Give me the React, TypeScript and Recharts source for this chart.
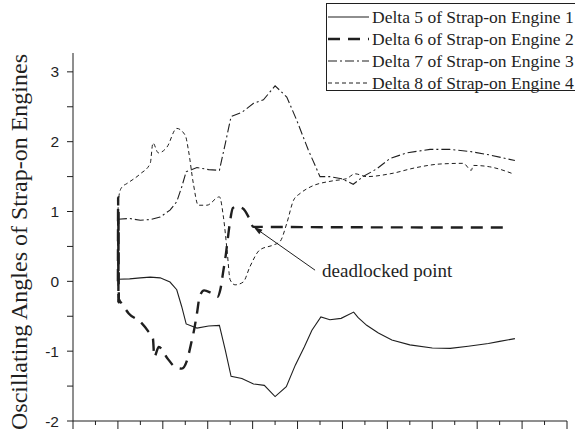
import { LineChart, Line, XAxis, YAxis, ReferenceLine } from 'recharts';

// time axis (s) and oscillating angles (deg) per strap-on engine
const timeD5 = [10, 10.05, 10.1, 12.6, 15.0, 17.2, 19.4, 21.6, 23.1, 24.2, 25.2, 27.6, 30.2, 32.6, 33.9, 35.2, 37.6, 40.2, 42.6, 45.0, 47.5, 49.5, 51.5, 53.2, 55.2, 57.2, 59.7, 62.5, 63.5, 65.4, 68.0, 71.0, 75.0, 80.0, 84.0, 88.0, 92.5, 95.0, 98.4];
const angleD5 = [0.0, 0.9, 0.03, 0.035, 0.05, 0.06, 0.05, -0.01, -0.12, -0.36, -0.61, -0.67, -0.64, -0.63, -0.98, -1.36, -1.39, -1.47, -1.49, -1.65, -1.51, -1.2, -0.94, -0.7, -0.51, -0.55, -0.53, -0.44, -0.52, -0.63, -0.74, -0.84, -0.91, -0.955, -0.96, -0.93, -0.89, -0.86, -0.82];

const timeD6 = [10, 10.05, 10.1, 10.15, 10.2, 10.9, 12.4, 15.0, 16.8, 17.8, 18.1, 19.1, 21.0, 22.6, 24.2, 25.4, 26.3, 26.8, 27.6, 28.2, 29.2, 30.6, 32.2, 32.8, 33.5, 33.9, 34.6, 35.0, 35.6, 36.5, 37.9, 39.1, 40.2, 97.0];
const angleD6 = [0.0, 1.2, -0.3, 1.0, -0.25, -0.32, -0.46, -0.58, -0.72, -0.82, -1.08, -0.94, -1.1, -1.22, -1.25, -1.13, -0.89, -0.75, -0.46, -0.22, -0.13, -0.16, -0.22, -0.12, 0.16, 0.32, 0.68, 0.87, 1.05, 1.07, 1.04, 0.92, 0.78, 0.77];

const timeD7 = [10, 12.6, 15.0, 17.2, 19.4, 21.6, 23.1, 24.2, 25.2, 27.6, 30.2, 32.6, 33.9, 35.2, 37.6, 40.2, 42.4, 45.0, 47.6, 49.8, 52.4, 55.0, 57.2, 59.8, 62.4, 64.6, 67.6, 70.6, 74.3, 79.5, 83.9, 88.4, 92.8, 98.4];
const angleD7 = [0.89, 0.9, 0.875, 0.885, 0.92, 1.02, 1.14, 1.35, 1.57, 1.63, 1.6, 1.59, 1.97, 2.36, 2.42, 2.55, 2.6, 2.8, 2.64, 2.31, 1.88, 1.5, 1.5, 1.47, 1.39, 1.5, 1.61, 1.76, 1.84, 1.89, 1.89, 1.86, 1.81, 1.73];

const timeD8 = [10, 10.3, 10.9, 12.0, 15.0, 17.2, 17.8, 19.0, 20.9, 23.1, 25.0, 25.7, 26.8, 27.9, 29.8, 32.6, 33.5, 34.3, 35.0, 36.1, 37.9, 39.4, 41.6, 44.6, 46.1, 47.6, 49.1, 50.6, 52.8, 57.9, 60.9, 62.8, 65.4, 70.6, 76.5, 81.7, 86.9, 88.7, 89.1, 92.8, 98.0];
const angleD8 = [1.0, 1.25, 1.35, 1.4, 1.54, 1.69, 1.98, 1.84, 1.92, 2.19, 2.09, 1.88, 1.4, 1.09, 1.09, 1.21, 0.92, 0.45, 0.02, -0.05, -0.01, 0.21, 0.45, 0.52, 0.57, 0.83, 1.16, 1.26, 1.35, 1.44, 1.47, 1.54, 1.5, 1.54, 1.63, 1.68, 1.69, 1.59, 1.66, 1.64, 1.54];

const xTicks = [0, 5, 10, 15, 20, 25, 30, 35, 40, 45, 50, 55, 60, 65, 70, 75, 80, 85, 90, 95, 100, 105, 110];
const yTicks = [-2, -1.5, -1, -0.5, 0, 0.5, 1, 1.5, 2, 2.5, 3];

// deadlocked point annotation: label end -> arrow tip
const arrowFrom = { x: 53.9, y: 0.16 };
const arrowTo = { x: 40.2, y: 0.78 };

const ink = '#1f1f1f';

const toPoints = (t: number[], a: number[]) => t.map((x, i) => ({ t: x, a: a[i] }));

const series = [
  { name: 'Delta 5 of Strap-on Engine 1', data: toPoints(timeD5, angleD5), width: 1.1, dash: undefined as string | undefined, curve: 'linear' as const },
  { name: 'Delta 6 of Strap-on Engine 2', data: toPoints(timeD6, angleD6), width: 2.4, dash: '12 8', curve: 'monotoneX' as const },
  { name: 'Delta 7 of Strap-on Engine 3', data: toPoints(timeD7, angleD7), width: 1.1, dash: '9 3 2 3', curve: 'linear' as const },
  { name: 'Delta 8 of Strap-on Engine 4', data: toPoints(timeD8, angleD8), width: 1.0, dash: '4 3', curve: 'monotoneX' as const },
];

const XTick = (props: any) => {
  const { x, y, payload } = props;
  const len = payload.value % 10 === 0 ? 8 : 4;
  return <line x1={x} x2={x} y1={y} y2={y + len} stroke={ink} strokeWidth={1} />;
};

const renderArrow = (props: any) => {
  const { x1, y1, x2, y2 } = props;
  const ang = Math.atan2(y2 - y1, x2 - x1);
  const L = 9;
  const W = 2.8;
  const bx = x2 - L * Math.cos(ang);
  const by = y2 - L * Math.sin(ang);
  const px = -Math.sin(ang) * W;
  const py = Math.cos(ang) * W;
  return (
    <g>
      <line x1={x1} y1={y1} x2={bx} y2={by} stroke={ink} strokeWidth={1} />
      <polygon points={`${x2},${y2} ${bx + px},${by + py} ${bx - px},${by - py}`} fill={ink} />
      <text x={x1 + 7} y={y1 + 7} fontFamily="Liberation Serif" fontSize={19} fill={ink}>
        deadlocked point
      </text>
    </g>
  );
};

const Legend = () => (
  <div
    style={{
      position: 'absolute',
      left: 326,
      top: 3,
      width: 260,
      height: 88,
      border: `1px solid ${ink}`,
      background: '#fff',
      paddingTop: 2,
      boxSizing: 'border-box',
      fontFamily: 'Liberation Serif',
      fontSize: 17.5,
      color: ink,
    }}
  >
    {series.map((s) => (
      <div key={s.name} style={{ display: 'flex', alignItems: 'center', height: 22, whiteSpace: 'nowrap' }}>
        <svg width={45} height={22} style={{ flex: 'none' }}>
          <line x1={1} x2={42} y1={11} y2={11} stroke={ink} strokeWidth={s.width} strokeDasharray={s.dash} />
        </svg>
        <span style={{ lineHeight: '22px' }}>{s.name}</span>
      </div>
    ))}
  </div>
);

export default function App() {
  return (
    <div style={{ position: 'absolute', left: 0, top: 0, width: 575, height: 434, overflow: 'hidden', background: '#fff' }}>
      <LineChart width={575} height={434} margin={{ top: 53, right: 8, bottom: 0, left: 13 }}>
        <XAxis
          dataKey="t"
          type="number"
          domain={[0, 110]}
          ticks={xTicks}
          interval={0}
          allowDataOverflow
          height={13}
          tickSize={0}
          tickMargin={0}
          tickLine={false}
          tick={(p: any) => <XTick {...p} />}
          stroke={ink}
        />
        <YAxis
          type="number"
          domain={[-2, 3.27]}
          ticks={yTicks}
          interval={0}
          allowDataOverflow
          width={60}
          tickSize={6}
          tickMargin={8}
          tickFormatter={(v: number) => (Number.isInteger(v) ? String(v) : '')}
          tick={{ fontSize: 15.5, fill: ink, fontFamily: 'Liberation Sans' }}
          stroke={ink}
          label={{
            content: (p: any) => {
              const vb = p.viewBox || { x: 13, y: 53, height: 368 };
              const tx = vb.x + 14;
              const ty = vb.y + vb.height / 2 + 5;
              return (
                <text
                  x={tx}
                  y={ty}
                  transform={`rotate(-90 ${tx} ${ty})`}
                  textAnchor="middle"
                  fontFamily="Liberation Serif"
                  fontSize={24}
                  fill={ink}
                >
                  Oscillating Angles of Strap-on Engines
                </text>
              );
            },
          }}
        />
        {series.map((s) => (
          <Line
            key={s.name}
            data={s.data}
            dataKey="a"
            name={s.name}
            type={s.curve}
            stroke={ink}
            strokeWidth={s.width}
            strokeDasharray={s.dash}
            dot={false}
            activeDot={false}
            isAnimationActive={false}
          />
        ))}
        <ReferenceLine segment={[arrowFrom, arrowTo]} shape={renderArrow} />
      </LineChart>
      <Legend />
    </div>
  );
}
